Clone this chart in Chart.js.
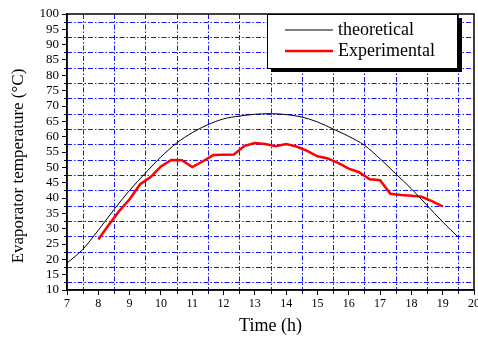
<!DOCTYPE html>
<html>
<head>
<meta charset="utf-8">
<script src="https://cdn.jsdelivr.net/npm/chart.js@4.4.0/dist/chart.umd.min.js"></script>
<style>
html, body { margin: 0; padding: 0; background: #fff; }
#caja { width: 478px; height: 338px; }
</style>
</head>
<body>
<div id="caja"><canvas id="graficoEvaporador"></canvas></div>
<script>
// theoretical curve, every half hour
const horasTeo = [7, 7.5, 8, 8.5, 9, 9.5, 10, 10.5, 11, 11.5, 12, 12.5, 13, 13.5,
                  14, 14.5, 15, 15.5, 16, 16.5, 17, 17.5, 18, 18.5, 19, 19.5];
const tempTeo = [18.8, 23.2, 29.5, 36.2, 42.5, 48.1, 53.4, 57.9, 61.3, 63.9, 65.8, 66.7, 67.3, 67.5,
                 67.2, 66.4, 64.8, 62.5, 60.1, 57.2, 52.8, 47.9, 43.0, 37.6, 32.2, 27.2];

// experimental readings, every 20 minutes
const horasExp = [8, 8.33, 8.67, 9, 9.33, 9.67, 10, 10.33, 10.67, 11, 11.33, 11.67, 12, 12.33,
                  12.67, 13, 13.33, 13.67, 14, 14.33, 14.67, 15, 15.33, 15.67, 16, 16.33,
                  16.67, 17, 17.33, 17.67, 18, 18.33, 18.67, 19];
const tempExp = [26.5, 31.2, 35.8, 39.6, 44.4, 46.8, 50.3, 52.4, 52.3, 50.1, 51.9, 54.0, 54.1, 54.2,
                 57.0, 57.9, 57.6, 56.9, 57.6, 56.8, 55.4, 53.6, 52.9, 51.4, 49.6, 48.4,
                 46.1, 45.8, 41.4, 41.0, 40.7, 40.4, 38.9, 37.3];

const etiquetas = ['theoretical', 'Experimental'];
const tituloX = 'Time (h)';
const tituloY = 'Evaporator temperature (°C)';

const serif = "'Liberation Serif', 'Times New Roman', serif";
Chart.defaults.font.family = serif;
Chart.defaults.color = '#000';

// dash-dot grid at the half values + minor ticks + frame
const rejilla = {
  id: 'rejilla',
  beforeDatasetsDraw(chart) {
    const {ctx, chartArea: a, scales: {x, y}} = chart;
    ctx.save();
    ctx.beginPath();
    ctx.rect(a.left, a.top, a.right - a.left, a.bottom - a.top);
    ctx.clip();
    ctx.strokeStyle = '#1414ff';
    ctx.lineWidth = 1;
    ctx.setLineDash([5, 2, 1.5, 2]);
    for (let v = 7.5; v < 20; v += 1) {
      const px = Math.round(x.getPixelForValue(v)) + 0.5;
      ctx.beginPath(); ctx.moveTo(px, a.top); ctx.lineTo(px, a.bottom); ctx.stroke();
    }
    for (let v = 12.5; v < 100; v += 5) {
      const py = Math.round(y.getPixelForValue(v)) + 0.5;
      ctx.beginPath(); ctx.moveTo(a.left, py); ctx.lineTo(a.right, py); ctx.stroke();
    }
    ctx.restore();

    ctx.save();
    ctx.strokeStyle = '#000';
    ctx.lineWidth = 1;
    for (let v = 7.5; v < 20; v += 1) {
      const px = Math.round(x.getPixelForValue(v)) + 0.5;
      ctx.beginPath(); ctx.moveTo(px, a.bottom); ctx.lineTo(px, a.bottom + 4); ctx.stroke();
    }
    for (let v = 12.5; v < 100; v += 5) {
      const py = Math.round(y.getPixelForValue(v)) + 0.5;
      ctx.beginPath(); ctx.moveTo(a.left - 3, py); ctx.lineTo(a.left, py); ctx.stroke();
    }
    ctx.restore();
  },
  afterDatasetsDraw(chart) {
    const {ctx, chartArea: a} = chart;
    ctx.save();
    ctx.strokeStyle = '#000';
    ctx.lineWidth = 1.5;
    ctx.strokeRect(a.left, a.top, a.right - a.left, a.bottom - a.top);
    ctx.restore();
  },
  afterDraw(chart) {
    const ctx = chart.ctx;
    const ds = chart.data.datasets;
    ctx.save();
    // legend box with shadow
    ctx.fillStyle = '#000';
    ctx.fillRect(271, 18, 191, 54);
    ctx.fillStyle = '#fff';
    ctx.fillRect(267, 14, 190, 54);
    ctx.strokeStyle = '#000';
    ctx.lineWidth = 1;
    ctx.strokeRect(267.5, 14.5, 190, 54);
    const filas = [30, 51];
    ds.forEach((d, i) => {
      ctx.strokeStyle = d.borderColor;
      ctx.lineWidth = d.borderWidth;
      ctx.beginPath(); ctx.moveTo(285, filas[i]); ctx.lineTo(333, filas[i]); ctx.stroke();
      ctx.fillStyle = '#000';
      ctx.font = '18px ' + serif;
      ctx.textBaseline = 'middle';
      ctx.textAlign = 'left';
      ctx.fillText(d.label, 338, filas[i]);
    });
    // y axis title
    ctx.translate(19, 166);
    ctx.rotate(-Math.PI / 2);
    ctx.font = '17px ' + serif;
    ctx.textAlign = 'center';
    ctx.textBaseline = 'middle';
    ctx.fillText(tituloY, 0, 0);
    ctx.restore();
  }
};

const ctxEvap = document.getElementById('graficoEvaporador');
new Chart(ctxEvap, {
  type: 'line',
  data: {
    datasets: [{
      label: etiquetas[0],
      data: horasTeo.map((h, i) => ({x: h, y: tempTeo[i]})),
      borderColor: '#000',
      borderWidth: 1,
      pointRadius: 0,
      cubicInterpolationMode: 'monotone'
    }, {
      label: etiquetas[1],
      data: horasExp.map((h, i) => ({x: h, y: tempExp[i]})),
      borderColor: '#ff0000',
      borderWidth: 2.5,
      pointRadius: 0,
      tension: 0
    }]
  },
  options: {
    responsive: true,
    maintainAspectRatio: false,
    animation: false,
    layout: { padding: { left: 0, top: 14, right: 4, bottom: 0 } },
    scales: {
      x: {
        type: 'linear',
        min: 7,
        max: 20,
        ticks: { stepSize: 1, autoSkip: false, maxRotation: 0, padding: 2, font: { size: 12 } },
        grid: { drawOnChartArea: false, tickLength: 5, color: '#000' },
        border: { color: '#000', width: 1.5 },
        title: { display: true, text: tituloX, font: { size: 18 }, padding: { top: 1, bottom: 1 } },
        afterFit(s) { s.height = 48; s.paddingLeft = 0; s.paddingRight = 0; }
      },
      y: {
        min: 10,
        max: 100,
        ticks: { stepSize: 5, autoSkip: false, padding: 3, font: { size: 13 } },
        grid: { drawOnChartArea: false, tickLength: 5, color: '#000' },
        border: { color: '#000', width: 1.5 },
        afterFit(s) { s.width = 67; s.paddingTop = 0; s.paddingBottom = 0; }
      }
    },
    plugins: {
      legend: { display: false },
      tooltip: { enabled: false }
    }
  },
  plugins: [rejilla]
});
</script>
</body>
</html>
